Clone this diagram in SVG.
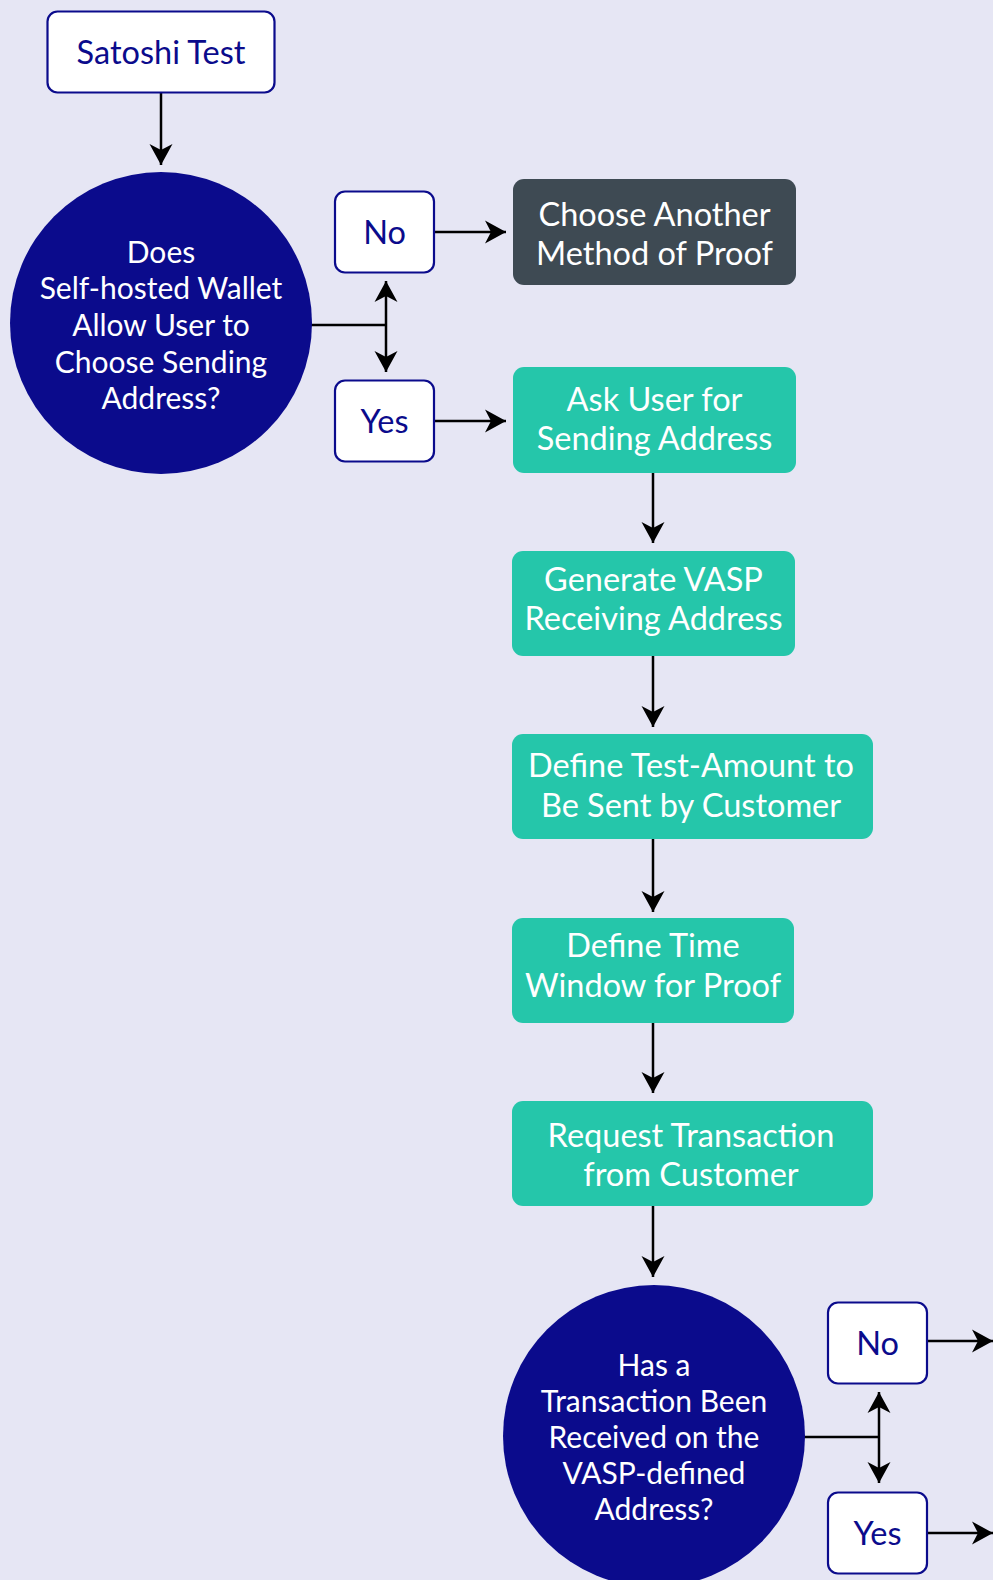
<svg xmlns="http://www.w3.org/2000/svg" width="993" height="1580" viewBox="0 0 993 1580">
<style>
.bg{fill:#e6e6f4}
.lbl{fill:#ffffff;stroke:#0b0b8c;stroke-width:2.2}
.navy{fill:#0b0b8c}
.teal{fill:#25c6aa}
.dark{fill:#3e4a53}
text{font-family:Lato,"Open Sans","Liberation Sans",sans-serif;text-anchor:middle}
.tw{fill:#ffffff;font-size:32.5px}
.tc{fill:#ffffff;font-size:30px}
.tn{fill:#0b0b8c;font-size:32.5px}
.edge{stroke:#000;stroke-width:2.5;fill:none}
</style>
<defs>
<marker id="arr" markerUnits="userSpaceOnUse" markerWidth="26" markerHeight="26" viewBox="-22 -13 24 26" refX="0" refY="0" orient="auto-start-reverse">
<path d="M0,0 L-21,-11.5 L-15,0 L-21,11.5 Z" fill="#000"/>
</marker>
</defs>
<rect class="bg" x="0" y="0" width="993" height="1580"/>

<g id="connectors">
<path class="edge" d="M161,93 V165" marker-end="url(#arr)"/>
<path class="edge" d="M311,325 H386"/>
<path class="edge" d="M386,281 V372" marker-start="url(#arr)" marker-end="url(#arr)"/>
<path class="edge" d="M434,232 H506" marker-end="url(#arr)"/>
<path class="edge" d="M434,421 H506" marker-end="url(#arr)"/>
<path class="edge" d="M653,473 V543" marker-end="url(#arr)"/>
<path class="edge" d="M653,656 V727" marker-end="url(#arr)"/>
<path class="edge" d="M653,839 V912" marker-end="url(#arr)"/>
<path class="edge" d="M653,1023 V1093" marker-end="url(#arr)"/>
<path class="edge" d="M653,1206 V1277" marker-end="url(#arr)"/>
<path class="edge" d="M804,1437 H879"/>
<path class="edge" d="M879,1392 V1483" marker-start="url(#arr)" marker-end="url(#arr)"/>
<path class="edge" d="M927,1341 H993" marker-end="url(#arr)"/>
<path class="edge" d="M927,1533 H993" marker-end="url(#arr)"/>
</g>

<g id="satoshi-test">
<rect class="lbl" x="47.5" y="11.5" width="227" height="81" rx="10"/>
<text class="tn" x="161" y="64">Satoshi Test</text>
</g>

<g id="decision-1">
<circle class="navy" cx="161" cy="323" r="151"/>
<text class="tc" x="161" y="263">Does</text>
<text class="tc" x="161" y="299">Self-hosted Wallet</text>
<text class="tc" x="161" y="336">Allow User to</text>
<text class="tc" x="161" y="373">Choose Sending</text>
<text class="tc" x="161" y="409">Address?</text>
</g>

<g id="no-1">
<rect class="lbl" x="335" y="191.5" width="99" height="81" rx="10"/>
<text class="tn" x="384.5" y="244">No</text>
</g>

<g id="yes-1">
<rect class="lbl" x="335" y="380.5" width="99" height="81" rx="10"/>
<text class="tn" x="384.5" y="433">Yes</text>
</g>

<g id="choose-another">
<rect class="dark" x="513" y="179" width="283" height="106" rx="11"/>
<text class="tw" x="654.5" y="226">Choose Another</text>
<text class="tw" x="654.5" y="265">Method of Proof</text>
</g>

<g id="ask-user">
<rect class="teal" x="513" y="367" width="283" height="106" rx="11"/>
<text class="tw" x="654.5" y="411">Ask User for</text>
<text class="tw" x="654.5" y="450">Sending Address</text>
</g>

<g id="generate-vasp">
<rect class="teal" x="512" y="551" width="283" height="105" rx="11"/>
<text class="tw" x="653.5" y="591">Generate VASP</text>
<text class="tw" x="653.5" y="630">Receiving Address</text>
</g>

<g id="define-amount">
<rect class="teal" x="512" y="734" width="361" height="105" rx="11"/>
<text class="tw" x="691" y="777">Define Test-Amount to</text>
<text class="tw" x="691" y="817">Be Sent by Customer</text>
</g>

<g id="define-time">
<rect class="teal" x="512" y="918" width="282" height="105" rx="11"/>
<text class="tw" x="653" y="957">Define Time</text>
<text class="tw" x="653" y="997">Window for Proof</text>
</g>

<g id="request-transaction">
<rect class="teal" x="512" y="1101" width="361" height="105" rx="11"/>
<text class="tw" x="691" y="1147">Request Transaction</text>
<text class="tw" x="691" y="1186">from Customer</text>
</g>

<g id="decision-2">
<circle class="navy" cx="654" cy="1436" r="151"/>
<text class="tc" x="654" y="1376">Has a</text>
<text class="tc" x="654" y="1412">Transaction Been</text>
<text class="tc" x="654" y="1448">Received on the</text>
<text class="tc" x="654" y="1484">VASP-defined</text>
<text class="tc" x="654" y="1520">Address?</text>
</g>

<g id="no-2">
<rect class="lbl" x="828" y="1302.5" width="99" height="81" rx="10"/>
<text class="tn" x="877.5" y="1355">No</text>
</g>

<g id="yes-2">
<rect class="lbl" x="828" y="1492.5" width="99" height="81" rx="10"/>
<text class="tn" x="877.5" y="1545">Yes</text>
</g>
</svg>
